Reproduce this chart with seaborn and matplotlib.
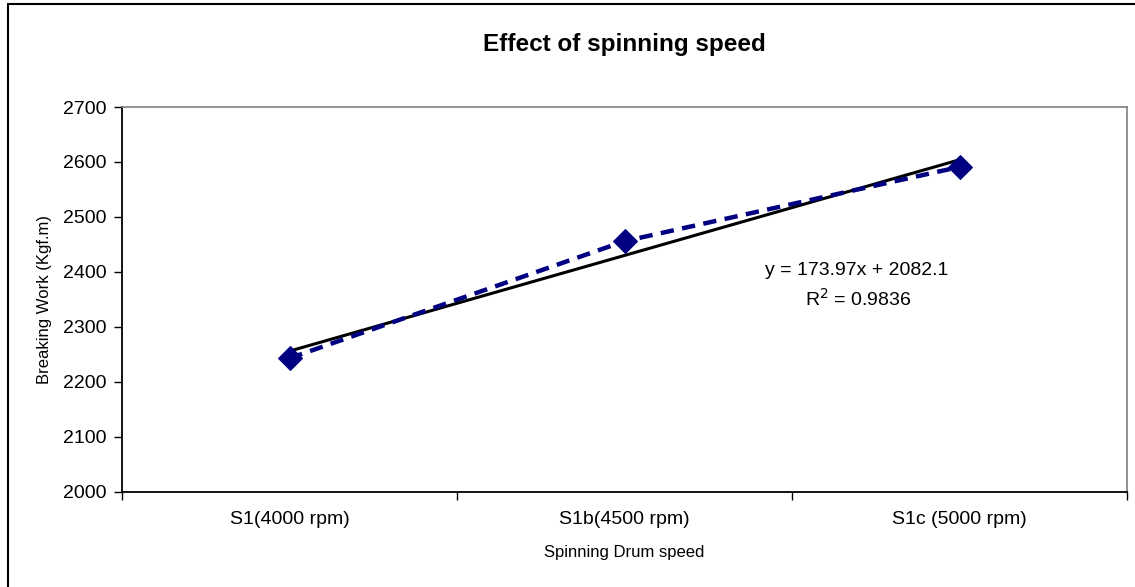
import numpy as np
import pandas as pd
import matplotlib.pyplot as plt
from matplotlib.lines import Line2D
from matplotlib.ticker import FixedLocator
import seaborn as sns

categories = ["S1(4000 rpm)", "S1b(4500 rpm)", "S1c (5000 rpm)"]
breaking_work = [2243.1, 2456.0, 2591.04]
y_ticks = [2000, 2100, 2200, 2300, 2400, 2500, 2600, 2700]

sns.set_style("white")
plt.rcParams["font.family"] = ["Liberation Sans", "DejaVu Sans"]
plt.rcParams.update({"text.color": "black", "axes.labelcolor": "black",
                     "xtick.color": "black", "ytick.color": "black"})

df = pd.DataFrame({"pos": np.arange(len(categories)), "work": breaking_work})

fig = plt.figure(figsize=(11.35, 5.87), dpi=100)
ax = fig.add_axes([0.1075, 0.162, 0.8855, 0.6557])

# linear trend on Excel-style x = 1..n
xs = np.arange(1, len(categories) + 1)
slope, intercept = np.polyfit(xs, breaking_work, 1)
fit = slope * xs + intercept
r2 = 1 - np.sum((np.array(breaking_work) - fit) ** 2) / np.sum((np.array(breaking_work) - np.mean(breaking_work)) ** 2)
ax.plot(df["pos"], fit, color="black", lw=2.2, zorder=2)

sns.lineplot(data=df, x="pos", y="work", ax=ax, color="#000080", lw=3.2,
             linestyle=(0, (3, 1.9)), marker="D", markersize=12,
             markeredgecolor="#000080", zorder=3)

ax.text(0.731, 0.575, f"y = {slope:.2f}x + {intercept:.1f}", transform=ax.transAxes,
        ha="center", va="center", fontsize=14)
ax.text(0.733, 0.502, f"R$^2$ = {r2:.4f}", transform=ax.transAxes,
        ha="center", va="center", fontsize=14)

ax.set_xlim(-0.5, len(categories) - 0.5)
ax.set_ylim(y_ticks[0], y_ticks[-1])
ax.set_yticks(y_ticks)
ax.set_xticks(df["pos"])
ax.set_xticklabels(categories)
ax.xaxis.set_minor_locator(FixedLocator(np.arange(-0.5, len(categories), 1.0)))
ax.tick_params(axis="x", which="major", length=0, pad=14, labelsize=14)
ax.tick_params(axis="x", which="minor", length=6, width=1, color="black", direction="out", bottom=True)
ax.tick_params(axis="y", length=6, width=1, color="black", direction="out", left=True, labelsize=14, pad=5)

ax.set_xlabel("Spinning Drum speed", fontsize=12, labelpad=12)
ax.set_ylabel("Breaking Work (Kgf.m)", fontsize=12, labelpad=8)
ax.set_title("Effect of spinning speed", fontsize=17.5, fontweight="bold", pad=40)

for side in ["left", "bottom"]:
    ax.spines[side].set_color("black")
    ax.spines[side].set_linewidth(1.3)
for side in ["top", "right"]:
    ax.spines[side].set_color("#808080")
    ax.spines[side].set_linewidth(1.2)

# outer chart frame (left and top edges visible)
fig.add_artist(Line2D([8 / 1135, 8 / 1135], [0, 1 - 4 / 587], color="black", lw=1.5))
fig.add_artist(Line2D([8 / 1135, 1], [1 - 4 / 587, 1 - 4 / 587], color="black", lw=1.5))

fig.savefig("out.png", dpi=100)
